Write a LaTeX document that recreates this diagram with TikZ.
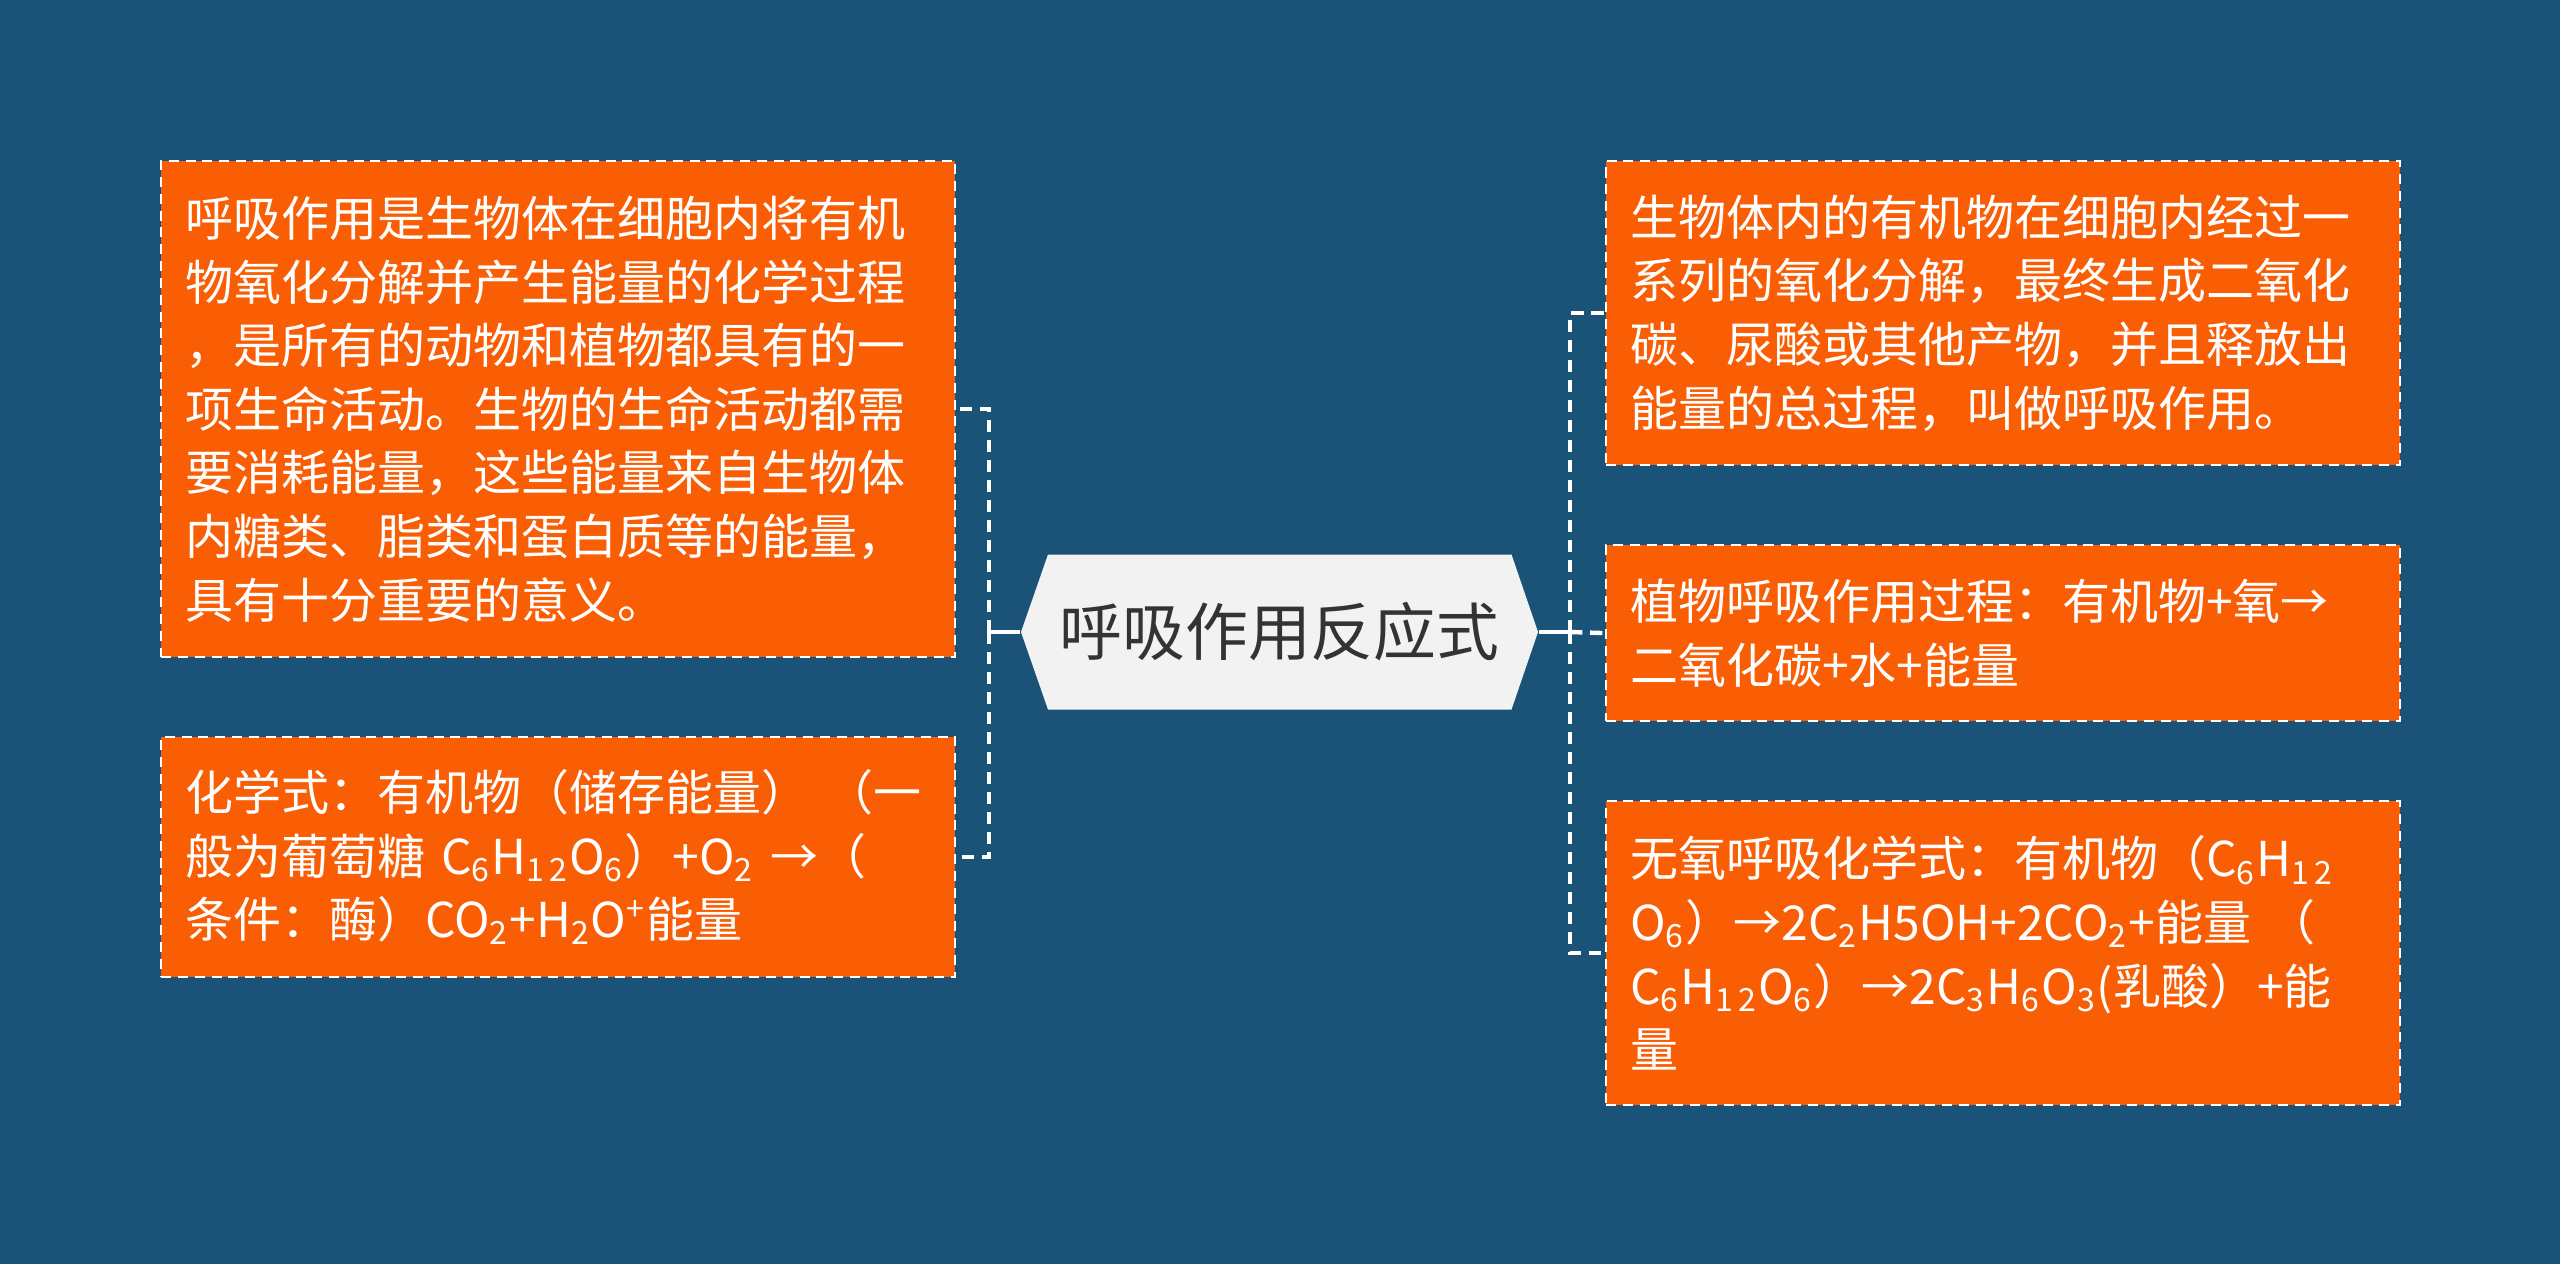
\documentclass[tikz,border=0pt]{standalone}
\usepackage{fontspec}
\setmainfont{Noto Sans CJK SC}
\definecolor{bgblue}{HTML}{1B5378}
\definecolor{boxorange}{HTML}{F95E05}
\definecolor{hexfill}{HTML}{F2F2F2}
\definecolor{hextext}{HTML}{333333}
\tikzset{
  leafbox/.style={fill=boxorange, draw=white, line width=0.55pt, dash pattern=on 2.5pt off 1.7pt,
    text=white, font=\fontsize{12}{15.9}\selectfont, align=left, text width=186.5pt,
    inner xsep=6pt, inner ysep=0pt, anchor=north west},
  conn/.style={draw=white, line width=1.1pt, dash pattern=on 3.1pt off 1.9pt},
  stub/.style={draw=white, line width=1.1pt},
  hexnode/.style={minimum width=129.25pt, minimum height=38.75pt, inner sep=0pt,
    text=hextext, font=\fontsize{15.7}{18}\selectfont}
}
\begin{document}
\begin{tikzpicture}[x=0.25pt,y=-0.25pt]
\useasboundingbox (0,0) rectangle (2560,1264);
\fill[bgblue] (0,0) rectangle (2560,1264);

% central hexagon
\fill[hexfill] (1048,554.5) -- (1511.5,554.5) -- (1538,632) -- (1511.5,709.5) -- (1048,709.5) -- (1021,632) -- cycle;
\node[hexnode] (hex) at (1279.5,632) {呼吸作用反应式};

% left boxes
\node[leafbox, minimum height=124pt] (L1) at (160,160) {呼吸作用是生物体在细胞内将有机\\物氧化分解并产生能量的化学过程\\，是所有的动物和植物都具有的一\\项生命活动。生物的生命活动都需\\要消耗能量，这些能量来自生物体\\内糖类、脂类和蛋白质等的能量，\\具有十分重要的意义。};
\node[leafbox, minimum height=60pt] (L2) at (160,736) {化学式：有机物（储存能量） （一\\般为葡萄糖 C\textsubscript{6}H\textsubscript{1\,2}O\textsubscript{6}）+O\textsubscript{2} →（\\条件：酶）CO\textsubscript{2}+H\textsubscript{2}O\textsuperscript{+}能量};

% right boxes
\node[leafbox, minimum height=76pt] (R1) at (1605,160) {生物体内的有机物在细胞内经过一\\系列的氧化分解，最终生成二氧化\\碳、尿酸或其他产物，并且释放出\\能量的总过程，叫做呼吸作用。};
\node[leafbox, minimum height=44pt] (R2) at (1605,544) {植物呼吸作用过程：有机物+氧→\\二氧化碳+水+能量};
\node[leafbox, minimum height=76pt] (R3) at (1605,800) {无氧呼吸化学式：有机物（C\textsubscript{6}H\textsubscript{1\,2}\\O\textsubscript{6}）→2C\textsubscript{2}H5OH+2CO\textsubscript{2}+能量 （\\C\textsubscript{6}H\textsubscript{1\,2}O\textsubscript{6}）→2C\textsubscript{3}H\textsubscript{6}O\textsubscript{3}(乳酸）+能\\量};

% connectors
\coordinate (trL) at (989,632);
\coordinate (trR) at (1570,632);
\draw[stub] (hex.west) -- (trL);
\draw[stub] (hex.east) -- (trR);
\draw[conn] (trL) |- (L1.east);
\draw[conn] (trL) |- (L2.east);
\draw[conn] (trR) |- (R1.west);
\draw[conn] (trR) -- (R2.west);
\draw[conn] (trR) |- (R3.west);
\end{tikzpicture}
\end{document}
